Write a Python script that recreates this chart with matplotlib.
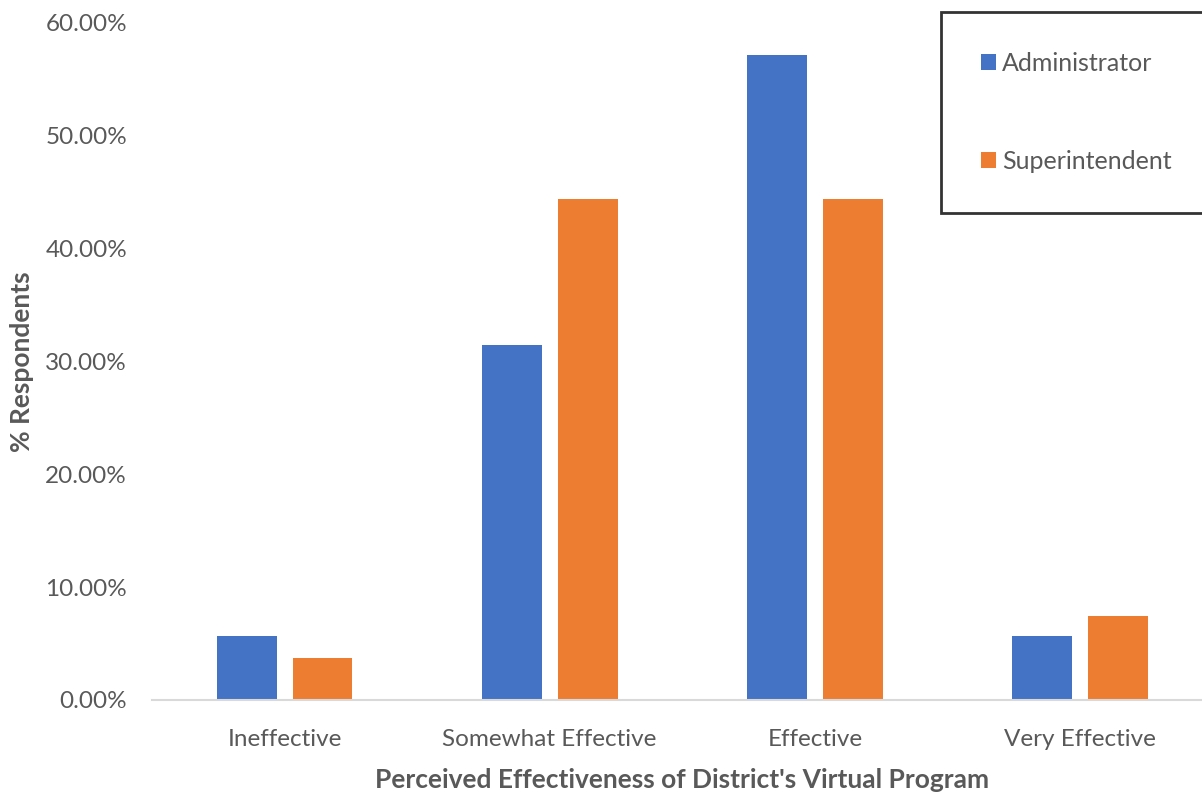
import numpy as np
import matplotlib.pyplot as plt
from matplotlib.ticker import PercentFormatter

# Data
categories = ['Ineffective', 'Somewhat Effective', 'Effective', 'Very Effective']
administrator = [5.71, 31.43, 57.14, 5.71]
superintendent = [3.70, 44.44, 44.44, 7.41]
series_names = ['Administrator', 'Superintendent']

blue = '#4472C4'
orange = '#ED7D31'
grey = '#595959'

plt.rcParams['font.family'] = ['Lato', 'DejaVu Sans']

fig = plt.figure(figsize=(12.02, 7.94), dpi=100)
ax = fig.add_axes([152 / 1202, 1 - 700 / 794, 1060.5 / 1202, 677 / 794])

x = np.arange(len(categories))
w = 0.226
off = 0.143
ax.bar(x - off, administrator, w, color=blue, label=series_names[0])
ax.bar(x + off, superintendent, w, color=orange, label=series_names[1])

ax.set_xlim(-0.5, 3.5)
ax.set_ylim(0, 60)
ax.set_yticks(np.arange(0, 61, 10))
ax.yaxis.set_major_formatter(PercentFormatter(decimals=2))
ax.set_xticks(x)
ax.set_xticklabels(categories)

for s in ['top', 'right', 'left']:
    ax.spines[s].set_visible(False)
ax.spines['bottom'].set_color('#D9D9D9')
ax.spines['bottom'].set_linewidth(1.5)
ax.tick_params(axis='both', length=0, labelsize=17.5, labelcolor=grey)
ax.tick_params(axis='y', pad=18)
ax.tick_params(axis='x', pad=21)

ax.set_ylabel('% Respondents', fontsize=19, fontweight='bold', color=grey, labelpad=8)
ax.set_xlabel("Perceived Effectiveness of District's Virtual Program", fontsize=19,
              fontweight='bold', color=grey, labelpad=13)

leg = ax.legend(loc='upper left', bbox_to_anchor=(941 / 1202, 1 - 12 / 794),
                bbox_transform=fig.transFigure, fontsize=18, labelcolor=grey,
                frameon=True, fancybox=False, borderaxespad=0, borderpad=1.6,
                labelspacing=3.0, handlelength=0.6, handleheight=0.6,
                handletextpad=0.25)
leg.get_frame().set_edgecolor('black')
leg.get_frame().set_linewidth(2)

fig.savefig('out.png', dpi=100)
